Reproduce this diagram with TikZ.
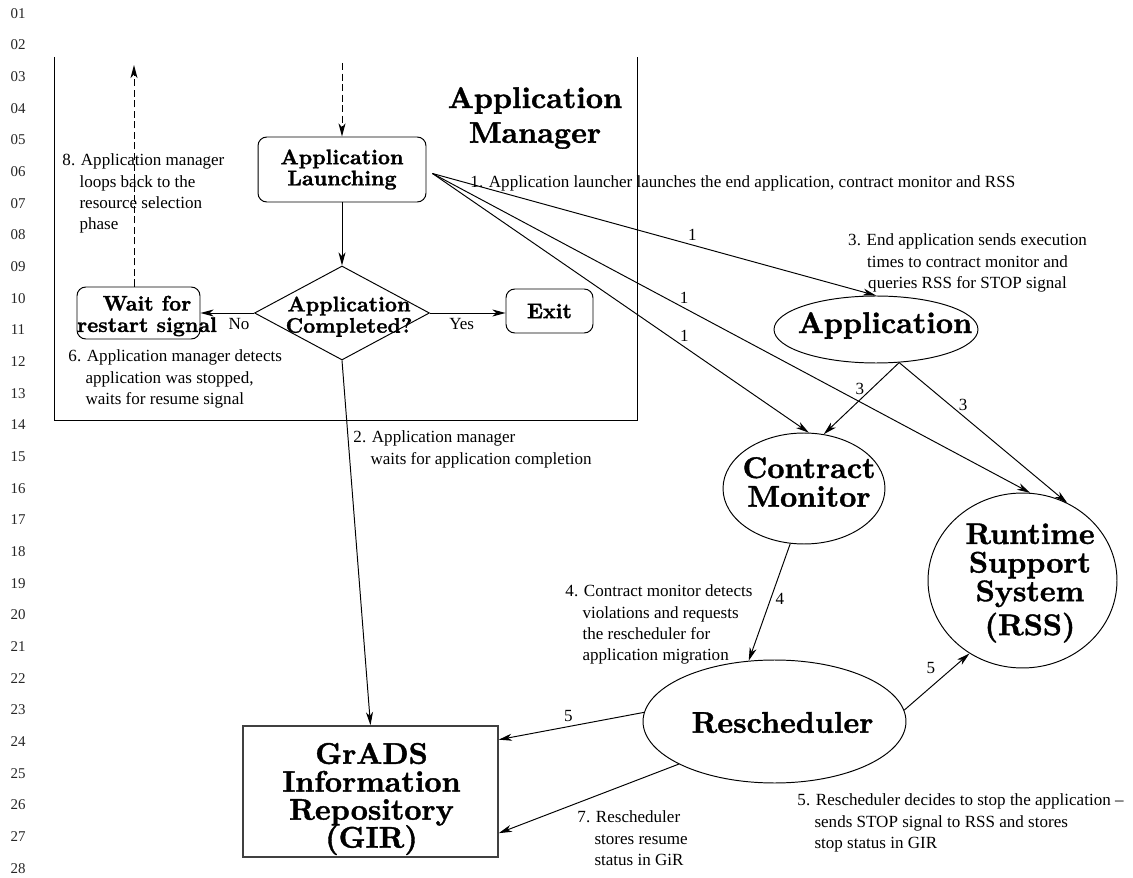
\documentclass[tikz,border=0pt]{standalone}
\usepackage{fontspec}
\usetikzlibrary{shapes.geometric, arrows.meta}
\newfontfamily\notefont{Liberation Serif}
\newfontfamily\heavyfont[FakeBold=1.3]{lmroman10-bold.otf}
\newcommand{\noteind}{\hspace*{1em}}
\newcommand{\tightlines}{\lineskiplimit=-8pt\relax}

\begin{document}
\begin{tikzpicture}[
x=0.02cm, y=-0.02cm, line width=0.55pt,
>={Stealth[length=7.5pt, width=4pt, inset=2.2pt]},
stepbox/.style={rectangle, rounded corners=5pt, draw=black, inner sep=0pt, align=center, font=\heavyfont\fontsize{12}{12}\selectfont},
decision/.style={diamond, draw=black, inner sep=0pt, minimum width=3.5cm, minimum height=1.88cm},
proc/.style={ellipse, draw=black, inner sep=0pt},
biglbl/.style={align=center, inner sep=0pt, font=\heavyfont\fontsize{17}{16.3}\selectfont\tightlines},
boxlbl/.style={align=center, inner sep=0pt, font=\heavyfont\fontsize{12}{12.2}\selectfont},
note/.style={anchor=north west, align=left, inner sep=0pt, font=\notefont\fontsize{9.7}{12.2}\selectfont},
num/.style={font=\notefont\fontsize{9.7}{12.2}\selectfont, inner sep=2.5pt},
lineno/.style={font=\notefont\fontsize{8.5}{10}\selectfont, text=black!85},
loopline/.style={->, dash pattern=on 4pt off 2pt}
]
\fill[white] (0,0) rectangle (1133,878);
\path[use as bounding box] (0,0) rectangle (1133,878);

%Line numbers
\foreach \i in {1,...,28}
  \node[lineno] (ln\i) at (18,{13.3+(\i-1)*31.67}) {\ifnum\i<10 0\fi\i};

%Application manager frame
\draw (54,57) -- (54,420) -- (637,420) -- (637,57);
\node[biglbl, font=\heavyfont\fontsize{17}{19.8}\selectfont] (mgr) at (535,118) {Application\\Manager};

%Nodes
\node[stepbox, minimum width=3.36cm, minimum height=1.3cm] (launch) at (342,169.5) {Application\\Launching};
\node[decision] (dec) at (342,313) {};
\node[boxlbl] (declbl) at (349,316.7) {Application\\Completed?};
\node[stepbox, minimum width=2.46cm, minimum height=1.04cm] (wait) at (138.5,313) {};
\node[boxlbl] (waitlbl) at (147,316) {Wait for\\restart signal};
\node[stepbox, minimum width=1.74cm, minimum height=0.88cm] (exit) at (549.5,311) {Exit};

\node[proc, minimum width=4.08cm, minimum height=1.34cm] (app) at (876,329.5) {};
\node[biglbl] (applbl) at (885,325.5) {Application};
\node[proc, minimum width=3.24cm, minimum height=2.22cm] (cm) at (804,488.5) {};
\node[biglbl] (cmlbl) at (809,482) {Contract\\Monitor};
\node[proc, minimum width=3.78cm, minimum height=3.5cm] (rss) at (1022.5,580.5) {};
\node[biglbl] (rsslbl) at (1030,583) {Runtime\\Support\\System\\[3pt](RSS)};
\node[proc, minimum width=5.26cm, minimum height=2.46cm] (resch) at (774.5,721.5) {};
\node[biglbl] (reschlbl) at (782.5,722.5) {Rescheduler};
\node[rectangle, draw=black!75, line width=0.9pt, minimum width=5.1cm, minimum height=2.62cm] (gir) at (370.5,791.5) {};
\node[biglbl, font=\heavyfont\fontsize{17}{15.9}\selectfont\tightlines] (girlbl) at (371.5,799) {GrADS\\Information\\Repository\\(GIR)};

%Notes
\node[note] (n1) at (470,175.3) {1. Application launcher launches the end application, contract monitor and RSS};
\node[note] (n8) at (62,153.3) {8. Application manager\\\noteind loops back to the\\\noteind resource selection\\\noteind phase};
\node[note] (n6) at (68,349.3) {6. Application manager detects\\\noteind application was stopped,\\\noteind waits for resume signal};
\node[note] (n2) at (353,430.3) {2. Application manager\\\noteind waits for application completion};
\node[note, anchor=north, align=center] (n3) at (967.5,233.3) {3. End application sends execution\\times to contract monitor and\\queries RSS for STOP signal};
\node[note] (n4) at (565,584.3) {4. Contract monitor detects\\\noteind violations and requests\\\noteind the rescheduler for\\\noteind application migration};
\node[note] (n7) at (577,810.3) {7. Rescheduler\\\noteind stores resume\\\noteind status in GiR};
\node[note] (n5) at (797,793.3) {5. Rescheduler decides to stop the application –\\\noteind sends STOP signal to RSS and stores\\\noteind stop status in GIR};

%Lines
\coordinate (top1) at (342,63);
\coordinate (back8) at (134,65);
\coordinate (launchout) at ([shift={(6,4)}]launch.east);

\draw[loopline] (top1) -- (launch.north);
\draw[loopline] (back8 |- wait.north) -- (back8);
\draw[->] (launch.south) -- (dec.north);
\draw[->] (dec.west) -- (dec.west -| wait.east) node[num, below, pos=0.28] {No};
\draw[->] (dec.east) -- (dec.east -| exit.west) node[num, below, pos=0.42] {Yes};
\draw[->] (dec.south) -- (gir.north);

\draw[->] (launchout) -- (app.north) node[num, above, pos=0.586] {1};
\draw[->] (launchout) -- (rss.85) node[num, above, pos=0.421] {1};
\draw[->] (launchout) -- (cm.85) node[num, above, pos=0.669] {1};
\draw[->] (app.-55) -- (cm.70) node[num, above, pos=0.52] {3};
\draw[->] (app.-55) -- (rss.60) node[num, above, pos=0.38] {3};
\draw[->] (cm.-104) -- (resch.113) node[num, right, pos=0.47] {4};
\draw[->] (resch.5) -- (rss.-126) node[num, above left, pos=0.55] {5};
\draw[->] (resch.176) -- (gir.22) node[num, above, pos=0.52] {5};
\draw[->] (resch.-156) -- (gir.-18);
\end{tikzpicture}
\end{document}
